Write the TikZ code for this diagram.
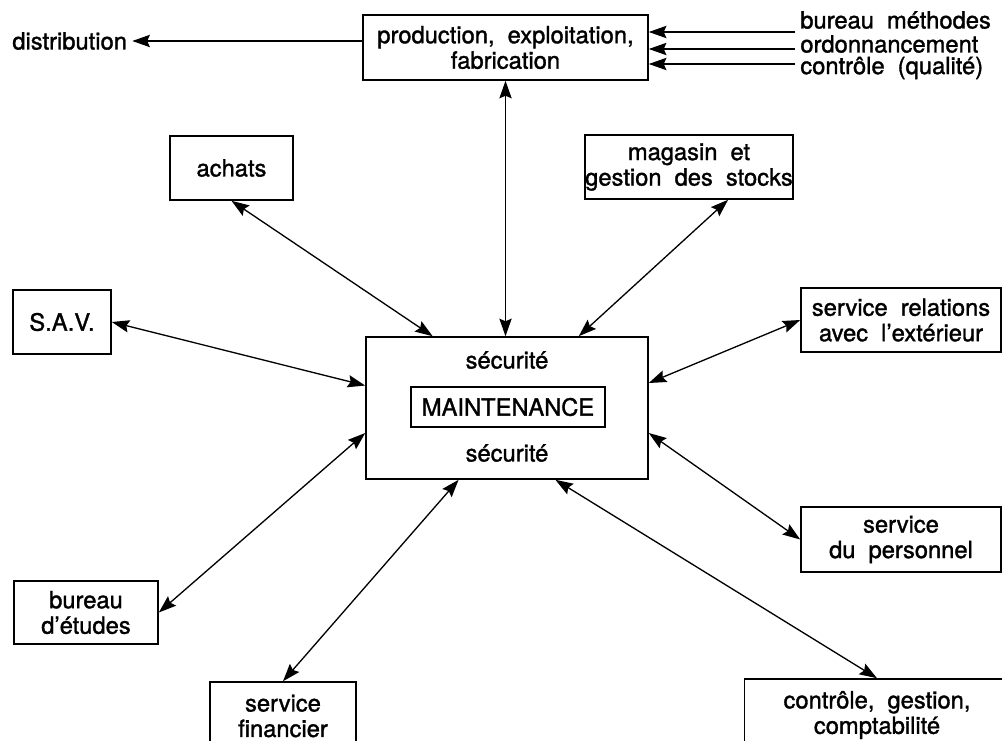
\documentclass[tikz,border=0pt]{standalone}
\usepackage{fontspec}
\setmainfont{TeX Gyre Heros}[FakeBold=1.4]
\usetikzlibrary{arrows.meta, positioning}

\newcommand{\boxfont}{\fontsize{13.5}{14.5}\selectfont\spaceskip 0.55em plus 0.1em\relax}

\begin{document}
\begin{tikzpicture}[x=0.2mm, y=-0.2mm,
    every node/.style={
        align=center,
        font=\boxfont
    },
    box/.style={draw, line width=0.9pt, inner sep=0pt},
    flow/.style={-{Stealth[length=10pt, width=7pt, inset=1.5pt]}, line width=0.75pt},
    link/.style={{Stealth[length=10pt, width=7pt, inset=1.5pt]}-{Stealth[length=10pt, width=7pt, inset=1.5pt]}, line width=0.75pt}]

    \useasboundingbox (0,0) rectangle (1002,740);
    \clip (0,0) rectangle (1002,740);

    % Production and what feeds it
    \node[box, minimum width=57mm, minimum height=13mm] (prod) at (505.5,47.5) {production, exploitation,\\ fabrication};
    \node[anchor=west, inner sep=1mm] (dist) at (7,41) {distribution};
    \node[anchor=west, inner sep=0pt] (bm) at (800,20) {bureau méthodes};
    \node[anchor=west, inner sep=0pt] (ord) at (800,44) {ordonnancement};
    \node[anchor=west, inner sep=0pt] (qual) at (800,68) {contrôle (qualité)};
    \coordinate (m1) at (795,32);
    \coordinate (m2) at (795,49);
    \coordinate (m3) at (795,64);

    % Maintenance in the middle
    \node[box, minimum width=56.4mm, minimum height=28.4mm] (maint) at (507,408) {};
    \node[box, line width=1.5pt, minimum width=38.8mm, minimum height=8mm] (core) at (508,407) {MAINTENANCE};
    \node (sec1) at (507,360) {sécurité};
    \node (sec2) at (507,453) {sécurité};

    % Services around it
    \node[box, minimum width=24.6mm, minimum height=12.8mm] (achats) at (231.5,168) {achats};
    \node[box, minimum width=32.4mm, minimum height=12.8mm] (magasin) at (689,167) {magasin et\\ gestion des stocks};
    \node[box, minimum width=19.6mm, minimum height=12.8mm] (sav) at (62,322) {S.A.V.};
    \node[box, minimum width=40mm, minimum height=12.8mm] (relations) at (901,320) {service relations\\ avec l’extérieur};
    \node[box, minimum width=40mm, minimum height=13mm] (personnel) at (901,539.5) {service\\ du personnel};
    \node[box, minimum width=28.8mm, minimum height=12.6mm] (etudes) at (86,612.5) {bureau\\ d’études};
    \node[box, minimum width=29.2mm, minimum height=13.6mm] (financier) at (283,716) {service\\ financier};
    \node[box, minimum width=53mm, minimum height=14.4mm] (controle) at (877,715) {contrôle, gestion,\\ comptabilité};

    % Flows
    \draw[flow] (dist.east -| prod.west) -- (dist.east);
    \draw[flow] (m1) -- (m1 -| prod.east);
    \draw[flow] (m2) -- (m2 -| prod.east);
    \draw[flow] (m3) -- (m3 -| prod.east);
    \draw[link] (prod.south) -- (prod.south |- maint.north);
    \draw[link] (achats.south) -- (maint.136);
    \draw[link] (magasin.320) -- (maint.45);
    \draw[link] (sav.east) -- (maint.171);
    \draw[link] (relations.west) -- (maint.10);
    \draw[link] (etudes.east) -- (maint.190);
    \draw[link] (personnel.west) -- (maint.350);
    \draw[link] (financier.north) -- (maint.236);
    \draw[link] (controle.north) -- (maint.304);
\end{tikzpicture}
\end{document}
